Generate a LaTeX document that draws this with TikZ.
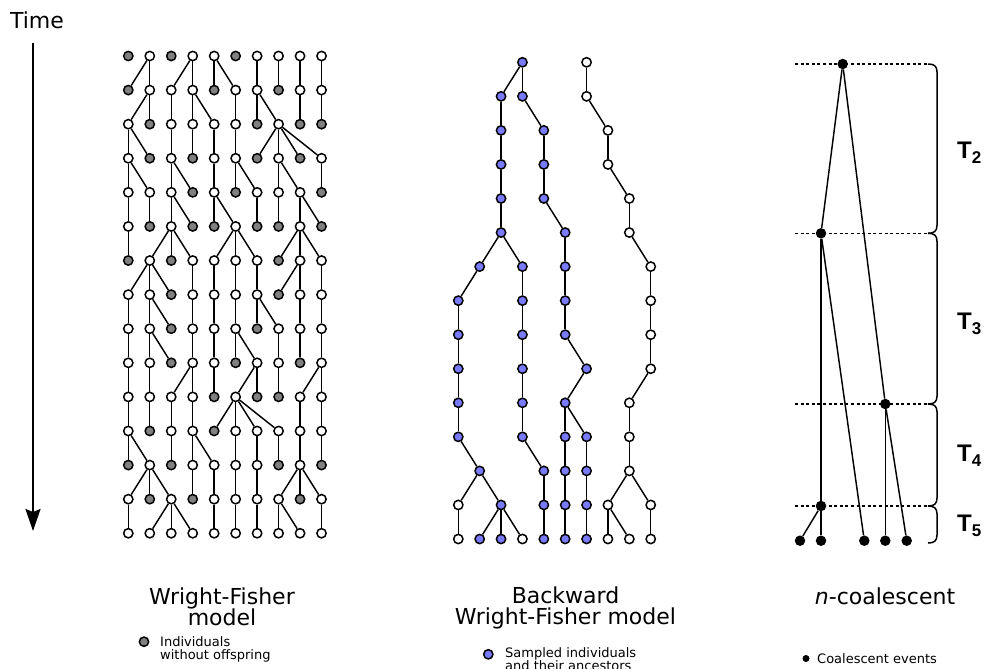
\documentclass[tikz,border=0pt]{standalone}
\usepackage{fontspec}
\setmainfont{DejaVu Sans}[ItalicFont={DejaVu Sans Oblique}]
\newfontfamily\tfont{Liberation Sans}
\usetikzlibrary{arrows.meta}
\definecolor{nogrey}{RGB}{128,128,128}
\definecolor{sampleblue}{RGB}{122,122,255}
\newcommand\spanbrace[2]{%
  \draw[bracepath] (928,#1) .. controls (934,#1) and (937,#1+2) .. (937,#1+8)
    -- (937,#2-8) .. controls (937,#2-2) and (934,#2) .. (928,#2);}
\newcommand\tsub[1]{T\raisebox{-5pt}{\fontsize{17}{17}\selectfont #1}}
\begin{document}
\begin{tikzpicture}[x=1pt,y=-1pt,
  ptw/.style={circle,draw=black,fill=white,line width=1.5pt,minimum size=9.3pt,inner sep=0pt},
  ptg/.style={ptw,fill=nogrey},
  ptb/.style={ptw,fill=sampleblue},
  link/.style={line width=1.45pt},
  evt/.style={circle,fill=black,minimum size=10.5pt,inner sep=0pt},
  evsmall/.style={circle,fill=black,minimum size=7pt,inner sep=0pt},
  guide/.style={line width=1.3pt,dash pattern=on 3pt off 2.6pt},
  bracepath/.style={line width=1.5pt},
  title/.style={inner sep=0pt,font=\fontsize{22}{22}\selectfont},
  legend/.style={inner sep=0pt,font=\fontsize{13}{13}\selectfont},
  tlabel/.style={inner sep=0pt,font=\tfont\bfseries\fontsize{24}{24}\selectfont},
  timearrow/.style={line width=2pt,-{Stealth[length=22pt,width=15pt,inset=3pt]}}
]
\useasboundingbox (0,0) rectangle (988,669);

% ---------- time axis ----------
\node[title,anchor=base] (timelbl) at (37,28.3) {Time};
\coordinate (ttop) at (33,43);
\coordinate (tbot) at (33,531);
\draw[timearrow] (ttop) -- (tbot);

% ---------- forward Wright-Fisher population ----------
\foreach \r/\pat in {
  0/{g,w,g,w,w,g,w,w,w,w},
  1/{g,w,w,w,g,w,w,g,w,w},
  2/{w,g,w,w,w,w,g,w,g,g},
  3/{w,g,w,g,w,w,g,w,g,w},
  4/{w,w,w,g,w,g,w,w,w,g},
  5/{w,g,w,g,g,w,g,g,w,g},
  6/{g,w,g,w,w,w,w,g,w,w},
  7/{w,w,g,w,w,w,w,g,w,w},
  8/{w,w,g,w,w,w,g,w,w,w},
  9/{w,w,g,w,w,g,w,w,g,w},
  10/{w,w,w,w,g,w,g,g,w,w},
  11/{w,g,w,w,g,w,w,w,w,w},
  12/{g,w,g,w,w,w,w,g,w,g},
  13/{w,g,w,g,w,w,w,w,g,w},
  14/{w,w,w,w,w,w,w,w,w,w}}
  \foreach \k [count=\c from 0] in \pat
    \node[pt\k] (L-\r-\c) at ({128.3+21.47*\c},{56+34.09*\r}) {};

% parent of each individual, generation by generation
\foreach \r/\plist in {
  1/{1,1,3,3,4,4,6,7,8,9},
  2/{1,1,2,3,3,5,6,6,8,9},
  3/{0,0,2,3,4,5,7,7,7,7},
  4/{0,0,2,2,4,5,5,7,7,9},
  5/{0,1,2,2,4,4,6,7,8,8},
  6/{0,2,2,2,5,5,5,8,8,8},
  7/{1,1,1,3,4,5,6,8,8,9},
  8/{0,1,1,3,4,5,6,6,8,9},
  9/{0,1,1,3,4,5,5,7,8,9},
  10/{0,1,3,3,4,6,6,7,9,9},
  11/{0,1,2,3,5,5,5,5,8,9},
  12/{0,0,2,3,3,5,6,7,8,9},
  13/{1,1,1,3,4,5,6,8,8,8},
  14/{0,2,2,2,4,5,6,7,7,9}}
{
  \pgfmathtruncatemacro\rp{\r-1}
  \foreach \p [count=\c from 0] in \plist
    \draw[link] (L-\rp-\p) -- (L-\r-\c);
}

% ---------- backward Wright-Fisher: ancestral lineages ----------
\foreach \r/\lst in {
  0/{3/b,6/w},
  1/{2/b,3/b,6/w},
  2/{2/b,4/b,7/w},
  3/{2/b,4/b,7/w},
  4/{2/b,4/b,8/w},
  5/{2/b,5/b,8/w},
  6/{1/b,3/b,5/b,9/w},
  7/{0/b,3/b,5/b,9/w},
  8/{0/b,3/b,5/b,9/w},
  9/{0/b,3/b,6/b,9/w},
  10/{0/b,3/b,5/b,8/w},
  11/{0/b,3/b,5/b,6/b,8/w},
  12/{1/b,4/b,5/b,6/b,8/w},
  13/{0/w,2/b,4/b,5/b,6/b,7/w,9/w},
  14/{0/w,1/b,2/b,3/w,4/b,5/b,6/b,7/w,8/w,9/w}}
  \foreach \c/\k in \lst
    \node[pt\k] (M-\r-\c) at ({458.3+21.38*\c},{62.3+34.05*\r}) {};

\foreach \r/\lst in {
  1/{3/2,3/3,6/6},
  2/{2/2,3/4,6/7},
  3/{2/2,4/4,7/7},
  4/{2/2,4/4,7/8},
  5/{2/2,4/5,8/8},
  6/{2/1,2/3,5/5,8/9},
  7/{1/0,3/3,5/5,9/9},
  8/{0/0,3/3,5/5,9/9},
  9/{0/0,3/3,5/6,9/9},
  10/{0/0,3/3,6/5,9/8},
  11/{0/0,3/3,5/5,5/6,8/8},
  12/{0/1,3/4,5/5,6/6,8/8},
  13/{1/0,1/2,4/4,5/5,6/6,8/7,8/9},
  14/{0/0,2/1,2/2,2/3,4/4,5/5,6/6,7/7,7/8,9/9}}
{
  \pgfmathtruncatemacro\rp{\r-1}
  \foreach \p/\c in \lst
    \draw[link] (M-\rp-\p) -- (M-\r-\c);
}

% ---------- n-coalescent ----------
\foreach \y in {64,233.3,404,506}
  \draw[guide] (795,\y) -- (929,\y);

\node[evt] (E2) at (842.7,64) {};
\node[evt] (E3) at (821,233.3) {};
\node[evt] (E4) at (885.3,404) {};
\node[evt] (E5) at (821,506) {};
\node[evt] (S1) at (800,540.7) {};
\node[evt] (S2) at (821,540.7) {};
\node[evt] (S3) at (864.3,540.7) {};
\node[evt] (S4) at (885.3,540.7) {};
\node[evt] (S5) at (906.7,540.7) {};

\draw[link] (E2) -- (E3);
\draw[link] (E2) -- (E4);
\draw[link] (E3) -- (E5);
\draw[link] (E3) -- (S3);
\draw[link] (E4) -- (S4);
\draw[link] (E4) -- (S5);
\draw[link] (E5) -- (S1);
\draw[link] (E5) -- (S2);

\spanbrace{64}{233.3}
\spanbrace{233.3}{404}
\spanbrace{404}{506}
\spanbrace{506}{543}

\node[tlabel,anchor=base west] (T2) at (957,158) {\tsub{2}};
\node[tlabel,anchor=base west] (T3) at (957,329) {\tsub{3}};
\node[tlabel,anchor=base west] (T4) at (957,461) {\tsub{4}};
\node[tlabel,anchor=base west] (T5) at (957,531) {\tsub{5}};

% ---------- captions and legends ----------
\node[title,anchor=base] (wf1) at (222,604.5) {Wright-Fisher};
\node[title,anchor=base] (wf2) at (222,625) {model};
\node[title,anchor=base] (bw1) at (565.5,603.3) {Backward};
\node[title,anchor=base] (bw2) at (565.5,624.3) {Wright-Fisher model};
\node[title,anchor=base] (nc) at (885,604.5) {\textit{n}-coalescent};

\node[ptg] (key1) at (144,641.7) {};
\node[legend,anchor=base west] (key1a) at (160,646) {Individuals};
\node[legend,anchor=base west] (key1b) at (160,659.5) {without offspring};

\node[ptb] (key2) at (488.3,654.3) {};
\node[legend,anchor=base west] (key2a) at (505,657.3) {Sampled individuals};
\node[legend,anchor=base west] (key2b) at (505,670.6) {and their ancestors};

\node[evsmall] (key3) at (806,658.5) {};
\node[legend,anchor=base west] (key3a) at (817,663) {Coalescent events};
\end{tikzpicture}
\end{document}
